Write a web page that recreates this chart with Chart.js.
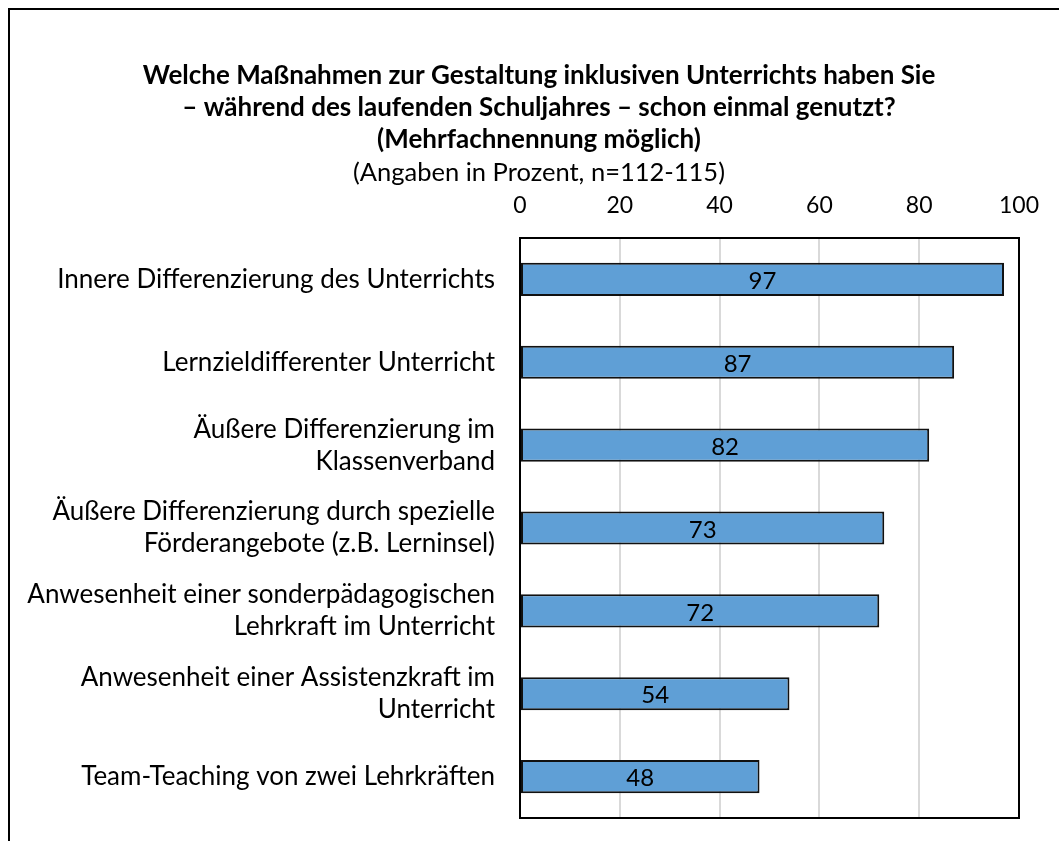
<!DOCTYPE html>
<html lang="de">
<head>
<meta charset="utf-8">
<script src="https://cdn.jsdelivr.net/npm/chart.js@4/dist/chart.umd.min.js"></script>
<style>
  html, body { margin: 0; padding: 0; background: #fff; overflow: hidden; width: 1059px; height: 841px; }
  #frame { position: absolute; left: 8px; top: 8px; width: 1200px; height: 900px; border-left: 2px solid #000; border-top: 2px solid #000; background: #fff; overflow: hidden; }
  canvas { display: block; }
</style>
</head>
<body>
<div id="frame"><canvas id="chart" width="1058" height="850"></canvas></div>
<script>
const categories = [
  'Innere Differenzierung des Unterrichts',
  'Lernzieldifferenter Unterricht',
  ['Äußere Differenzierung im', 'Klassenverband'],
  ['Äußere Differenzierung durch spezielle', 'Förderangebote (z.B. Lerninsel)'],
  ['Anwesenheit einer sonderpädagogischen', 'Lehrkraft im Unterricht'],
  ['Anwesenheit einer Assistenzkraft im', 'Unterricht'],
  'Team-Teaching von zwei Lehrkräften'
];
const values = [97, 87, 82, 73, 72, 54, 48];
const xTicks = [0, 20, 40, 60, 80, 100];
const titleLines = [
  'Welche Maßnahmen zur Gestaltung inklusiven Unterrichts haben Sie',
  '– während des laufenden Schuljahres – schon einmal genutzt?',
  '(Mehrfachnennung möglich)'
];
const subtitleText = '(Angaben in Prozent, n=112-115)';

const FONT = 'Lato, "Open Sans", sans-serif';

// value labels centred in each bar
const barLabels = {
  id: 'barLabels',
  afterDatasetsDraw(chart) {
    const ctx = chart.ctx;
    const meta = chart.getDatasetMeta(0);
    ctx.save();
    ctx.font = '24px ' + FONT;
    ctx.fillStyle = '#000';
    ctx.textAlign = 'center';
    ctx.textBaseline = 'middle';
    meta.data.forEach((bar, i) => {
      ctx.fillText(String(values[i]), (bar.x + bar.base) / 2, bar.y + 2);
    });
    ctx.restore();
  }
};

// black box round the plot area
const plotFrame = {
  id: 'plotFrame',
  afterDraw(chart) {
    const a = chart.chartArea;
    const ctx = chart.ctx;
    ctx.save();
    ctx.strokeStyle = '#000';
    ctx.lineWidth = 2;
    ctx.strokeRect(a.left, a.top, a.right - a.left, a.bottom - a.top);
    ctx.restore();
  }
};

new Chart(document.getElementById('chart'), {
  type: 'bar',
  data: {
    labels: categories,
    datasets: [{
      data: values,
      backgroundColor: '#5f9fd6',
      borderColor: '#111',
      borderWidth: 2,
      borderSkipped: false,
      categoryPercentage: 1,
      barPercentage: 0.4
    }]
  },
  options: {
    indexAxis: 'y',
    responsive: false,
    animation: false,
    layout: { padding: { left: 10, right: 10, top: 0, bottom: 42 } },
    plugins: {
      legend: { display: false },
      tooltip: { enabled: false },
      title: {
        display: true,
        text: titleLines,
        color: '#000',
        font: { family: FONT, size: 26, weight: 'bold', lineHeight: 32 / 26 },
        padding: { top: 50, bottom: 1 }
      },
      subtitle: {
        display: true,
        text: subtitleText,
        color: '#000',
        font: { family: FONT, size: 25.5, lineHeight: 32 / 25.5 },
        padding: { top: 0, bottom: 0 }
      }
    },
    scales: {
      x: {
        position: 'top',
        min: 0,
        max: 100,
        afterBuildTicks(s) { s.ticks = xTicks.map(v => ({ value: v })); },
        afterFit(s) { s.height = 49; },
        ticks: { color: '#000', padding: 19, font: { family: FONT, size: 23 } },
        grid: { color: '#d9d9d9', lineWidth: 2, drawTicks: false },
        border: { display: false }
      },
      y: {
        afterFit(s) { s.width = 500; },
        ticks: { color: '#000', padding: 25, font: { family: FONT, size: 26, lineHeight: 32 / 26 } },
        grid: { display: false, drawTicks: false },
        border: { display: false }
      },
      // empty right-hand margin so the title stays centred on the whole frame
      yRight: {
        type: 'category',
        position: 'right',
        afterFit(s) { s.width = 39; },
        ticks: { display: false },
        grid: { display: false, drawTicks: false },
        border: { display: false }
      }
    }
  },
  plugins: [barLabels, plotFrame]
});
</script>
</body>
</html>
